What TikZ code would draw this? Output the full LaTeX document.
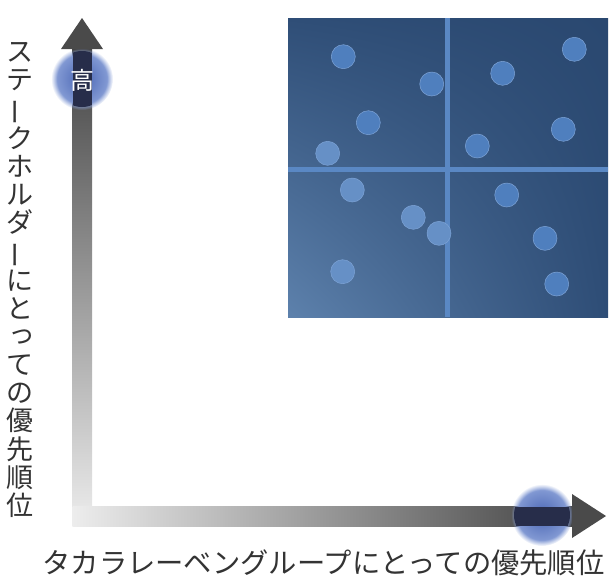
\documentclass[tikz,border=0pt]{standalone}
\usepackage{fontspec}
\newfontfamily\jp{Noto Sans CJK JP}
\usetikzlibrary{fadings,shadings}
\definecolor{panelUL}{HTML}{2F4E77}
\definecolor{panelUR}{HTML}{2A4870}
\definecolor{panelLL}{HTML}{5D81AC}
\definecolor{panelLR}{HTML}{2E4D76}
\definecolor{divider}{HTML}{5A88C4}
\definecolor{dotfill}{HTML}{4F7FBE}
\definecolor{dotlight}{HTML}{6690C6}
\definecolor{dotedge}{HTML}{7DA3D6}
\definecolor{shaftdark}{HTML}{444444}
\definecolor{shaftlight}{HTML}{EDEDED}
\definecolor{headgray}{HTML}{4A4A4A}
\definecolor{glowin}{HTML}{4A66B4}
\definecolor{glowout}{HTML}{8EA4DA}
\definecolor{navy}{HTML}{272D4A}
\definecolor{labeltext}{HTML}{333333}
\begin{document}
\begin{tikzpicture}[x=1pt,y=-1pt,
  dot/.style={circle, minimum size=24pt, inner sep=0pt, fill=dotfill, draw=dotedge, line width=0.5pt},
  dotl/.style={dot, fill=dotlight},
  jplabel/.style={inner sep=0pt, text=labeltext},
  head/.style={fill=headgray}]
\useasboundingbox (0,0) rectangle (610,582);
% panel
\shade[upper left=panelUL, upper right=panelUR, lower left=panelLL, lower right=panelLR] (288,18) rectangle (608,317);
\fill[divider] (444.5,18) rectangle (449.5,317);
\fill[divider] (288,166.5) rectangle (608,171.5);
% dots
\node[dot]  (c1)  at (343.3,56.7) {};
\node[dot]  (c2)  at (431.7,84) {};
\node[dot]  (c3)  at (502.7,73.3) {};
\node[dot]  (c4)  at (574.3,49.3) {};
\node[dot]  (c5)  at (368.3,122.7) {};
\node[dotl] (c6)  at (327.7,153.3) {};
\node[dot]  (c7)  at (477.3,146) {};
\node[dot]  (c8)  at (563.3,129.3) {};
\node[dotl] (c9)  at (352.3,190) {};
\node[dotl] (c10) at (413.3,217.3) {};
\node[dotl] (c11) at (439,233.3) {};
\node[dot]  (c12) at (506.7,195) {};
\node[dot]  (c13) at (545,238.3) {};
\node[dotl] (c14) at (342.7,271.7) {};
\node[dot]  (c15) at (556.7,284) {};
% axes shafts
\shade[top color=shaftdark, bottom color=shaftlight] (72.5,48) rectangle (92,526);
\shade[left color=shaftlight, right color=shaftdark] (72.5,506.5) rectangle (573,526);
% glows
\shade[inner color=glowin, outer color=glowout, path fading=circle with fuzzy edge 20 percent] (82,79) circle (31);
\begin{scope}
  \clip (82,79) circle (28);
  \fill[navy] (72.5,40) rectangle (92,120);
\end{scope}
\shade[inner color=glowin, outer color=glowout, path fading=circle with fuzzy edge 20 percent] (542,515) circle (31);
\begin{scope}
  \clip (542,515) circle (28);
  \fill[navy] (505,506.5) rectangle (580,526);
\end{scope}
% arrowheads
\fill[head] (61,49) -- (82,18) -- (103,49) -- cycle;
\fill[head] (572,494) -- (606,516) -- (572,538) -- cycle;
\node[inner sep=0pt, text=white, font=\jp\fontsize{24}{26}\selectfont] (high) at (82,80) {高};
% labels
\node[jplabel, align=center, font=\jp\fontsize{27}{28.15}\selectfont] (ylabel) at (20,280)
  {ス\\テ\\\rotatebox[origin=c]{90}{ー}\\ク\\ホ\\ル\\ダ\\\rotatebox[origin=c]{90}{ー}\\に\\と\\\raisebox{0.1em}{\hspace{0.12em}っ}\\て\\の\\優\\先\\順\\位};
\node[jplabel, font=\jp\fontsize{28.3}{30}\selectfont] (xlabel) at (323.5,563) {タカラレーベングループにとっての優先順位};
\end{tikzpicture}
\end{document}
